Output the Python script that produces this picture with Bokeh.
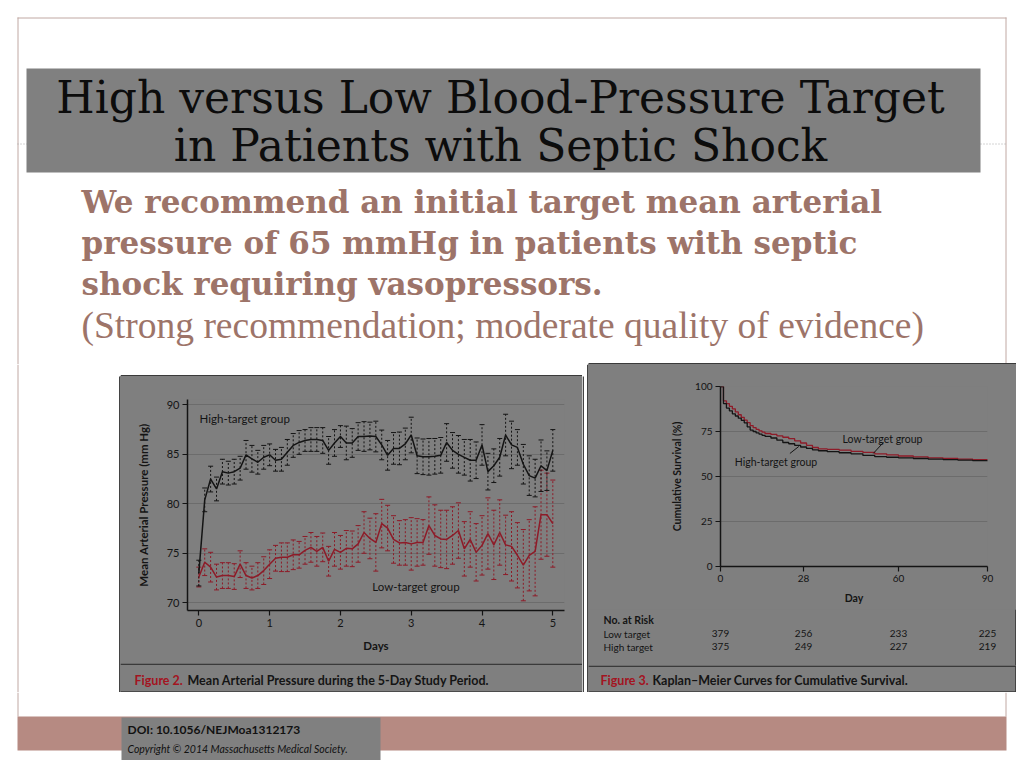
from bokeh.plotting import figure
from bokeh.layouts import column, row
from bokeh.models import Range1d, FixedTicker, Whisker, TeeHead, ColumnDataSource
from bokeh.core.properties import value
from bokeh.embed import file_html
from bokeh.resources import INLINE

# ---------------- data ----------------
title_lines = ["High versus Low Blood-Pressure Target", "in Patients with Septic Shock"]
rec_lines = ["We recommend an initial target mean arterial",
             "pressure of 65 mmHg in patients with septic",
             "shock requiring vasopressors."]
rec_note = "(Strong recommendation; moderate quality of evidence)"

# Figure 2: mean arterial pressure, measured every 2 hours over 5 days
days = [i / 12 for i in range(61)]
high_mean = [73.0, 80.4, 82.5, 81.5, 83.25, 83.1, 83.25, 83.6, 84.95, 84.55,
             84.2, 84.7, 84.95, 84.4, 84.5, 85.2, 85.9, 86.2, 86.4, 86.5,
             86.5, 86.4, 85.4, 86.15, 86.8, 86.15, 86.15, 86.8, 86.8, 86.85,
             86.8, 85.95, 84.9, 85.6, 85.6, 86.05, 86.95, 84.85, 84.75, 84.75,
             84.8, 84.9, 86.2, 85.4, 85.0, 84.7, 84.4, 84.4, 85.95, 83.25,
             83.85, 84.7, 86.95, 85.95, 85.7, 84.0, 82.85, 82.6, 83.85, 83.35,
             85.4]
high_err = [1.3, 1.2, 1.3, 1.2, 1.25, 1.2, 1.25, 1.2, 1.45, 1.35,
            1.2, 1.2, 1.1, 1.1, 1.2, 1.3, 1.2, 1.2, 1.1, 1.2,
            1.2, 1.3, 1.4, 1.35, 1.1, 1.7, 1.45, 1.4, 1.5, 1.4,
            1.55, 1.5, 1.5, 1.6, 1.65, 1.6, 1.8, 1.8, 1.8, 1.85,
            1.8, 1.8, 1.9, 1.8, 1.9, 1.8, 2.1, 1.85, 2.05, 1.85,
            1.7, 1.9, 2.1, 2.4, 1.8, 2.0, 2.0, 1.9, 2.6, 2.0,
            2.1]
low_mean = [72.6, 74.1, 73.6, 72.6, 72.75, 72.75, 72.65, 73.9, 72.75, 72.5,
            72.75, 73.25, 73.9, 74.5, 74.6, 74.6, 74.85, 74.85, 75.3, 75.6,
            75.2, 75.6, 74.2, 75.4, 75.1, 75.5, 75.45, 75.95, 77.1, 76.5,
            76.1, 78.0, 77.55, 76.4, 76.05, 76.1, 75.95, 76.1, 76.1, 77.8,
            76.8, 76.45, 76.4, 76.8, 77.3, 75.45, 76.4, 75.1, 75.8, 77.0,
            75.85, 77.1, 75.85, 75.7, 74.8, 73.8, 74.8, 75.2, 78.9, 78.9,
            78.0]
low_err = [1.0, 1.35, 1.5, 1.3, 1.3, 1.3, 1.3, 1.35, 1.3, 1.2,
           1.3, 1.4, 1.45, 1.3, 1.45, 1.45, 1.5, 1.35, 1.4, 1.5,
           1.5, 1.45, 1.5, 1.7, 1.7, 1.8, 1.8, 1.85, 2.1, 2.05,
           2.9, 2.45, 2.3, 2.4, 2.25, 2.3, 2.65, 2.4, 2.3, 2.9,
           3.1, 2.9, 2.95, 2.9, 2.8, 2.75, 2.8, 2.9, 3.0, 3.6,
           3.5, 3.3, 3.0, 3.5, 3.3, 3.6, 3.6, 4.5, 4.5, 4.2,
           4.4]
map_ticks = [70, 75, 80, 85, 90]
day_ticks = [0, 1, 2, 3, 4, 5]

# Figure 3: Kaplan-Meier cumulative survival (%)
km_days_low = [0, 1, 2, 3, 4, 5, 6, 7, 8, 9, 10, 11, 12, 13, 14, 15, 17, 19, 21, 23,
               25, 27, 29, 31, 33, 36, 40, 44, 48, 52, 56, 60, 65, 70, 75, 80, 85, 90]
km_surv_low = [100, 92.0, 90.5, 89.0, 87.6, 85.9, 84.3, 82.9, 81.3, 79.9, 78.3, 77.2,
               76.2, 75.3, 74.6, 73.9, 73.4, 72.6, 71.8, 71.0, 69.8, 68.6, 67.3, 66.1,
               65.3, 65.1, 64.7, 64.0, 63.4, 62.6, 62.0, 61.4, 60.9, 60.4, 60.0, 59.7,
               59.4, 59.1]
km_days_high = [0, 1, 2, 3, 4, 5, 6, 7, 8, 9, 10, 11, 12, 13, 14, 15, 17, 19, 21, 23,
                25, 27, 29, 31, 33, 36, 40, 44, 48, 52, 56, 60, 65, 70, 75, 80, 85, 90]
km_surv_high = [100, 90.5, 88.0, 86.5, 84.8, 83.6, 82.4, 81.2, 79.8, 77.6, 75.8, 75.0,
                74.2, 73.5, 72.9, 72.3, 71.4, 70.2, 68.9, 68.2, 67.3, 66.4, 65.6, 64.8,
                64.3, 63.8, 63.2, 62.6, 61.7, 61.0, 60.7, 60.4, 60.0, 59.7, 59.4, 59.1,
                58.8, 58.5]
surv_ticks = [0, 25, 50, 75, 100]
km_day_ticks = [0, 28, 60, 90]
risk_days = [0, 28, 60, 90]
risk_low = [379, 256, 233, 225]
risk_high = [375, 249, 227, 219]

# ---------------- style ----------------
PANEL = "#7f7f7f"
DARK = "#3a3a3a"
FRAME = "#c0a8a3"
ROSE = "#9d7469"
BAND = "#b68a82"
RED = "#8e1b28"
CAPRED = "#a3141f"
INK = "#141414"
GRID = "#6c6c6c"
SANS = "Lato"


def pixfig(x0, x1, y0, y1, bg="white"):
    p = figure(width=round(x1 - x0), height=round(y1 - y0),
               x_range=Range1d(x0, x1), y_range=Range1d(y1, y0),
               x_axis_location=None, y_axis_location=None, tools="",
               min_border=0, output_backend="svg", toolbar_location=None,
               background_fill_color=bg, border_fill_color=bg, outline_line_color=None,
               frame_align=False)
    p.grid.visible = False
    return p


def txt(p, x, y, s, size, color, font, style="normal", align="left"):
    p.text(x=[x], y=[y], text=[s], text_font=value(font), text_font_size=size,
           text_font_style=style, text_color=color, text_align=align,
           text_baseline="middle")


def hline(p, x0, x1, y, color, w=1.0, dash="solid"):
    p.segment(x0=[x0], y0=[y], x1=[x1], y1=[y], line_color=color, line_width=w, line_dash=dash)


def vline(p, x, y0, y1, color, w=1.0):
    p.segment(x0=[x], y0=[y0], x1=[x], y1=[y1], line_color=color, line_width=w)


def style_axes(fig, tick_size, label_size):
    for ax in (fig.xaxis[0], fig.yaxis[0]):
        ax.axis_line_color = INK
        ax.axis_line_width = 1.5
        ax.major_tick_line_color = INK
        ax.major_tick_line_width = 1.2
        ax.major_tick_out = 5
        ax.major_tick_in = 0
        ax.minor_tick_out = 0
        ax.minor_tick_in = 0
        ax.major_label_text_font = SANS
        ax.major_label_text_font_size = tick_size
        ax.major_label_text_color = INK
        ax.major_label_standoff = 3
        ax.axis_label_text_font = SANS
        ax.axis_label_text_font_style = "bold"
        ax.axis_label_text_font_size = label_size
        ax.axis_label_text_color = INK


# ---------------- top part ----------------
top = pixfig(0, 1016, 0, 364)
hline(top, 17, 1006, 17.5, FRAME)
vline(top, 17.5, 17, 364, FRAME)
vline(top, 1005.5, 17, 364, FRAME)
hline(top, 17, 1006, 143.5, "#a8a8a8", 1, "1 2")
top.quad(left=[26], right=[980], top=[68], bottom=[172], fill_color="#808080", line_color=None)
for i, s in enumerate(title_lines):
    txt(top, 500, 97 + 48 * i, s, "44px", "#0c0c0c", "DejaVu Serif", align="center")
for i, s in enumerate(rec_lines):
    txt(top, 81, 201 + 41 * i, s, "31px", ROSE, "DejaVu Serif", "bold")
txt(top, 81, 325, rec_note, "37.5px", ROSE, "Liberation Serif")
hline(top, 588, 1016, 363.3, DARK, 1.5)

# ---------------- left panel ----------------
gutter = pixfig(0, 120, 364, 692)
vline(gutter, 17.5, 364, 692, FRAME)
vline(gutter, 119.3, 376, 692, DARK, 1.5)

ltop = pixfig(120, 582, 364, 376)
hline(ltop, 120, 582, 375.3, DARK, 1.5)

lc = figure(width=462, height=287, x_range=Range1d(-0.16, 5.165), y_range=Range1d(69.22, 90.54),
            min_border_left=67, min_border_right=18, min_border_top=23, min_border_bottom=53,
            background_fill_color=PANEL, border_fill_color=PANEL, outline_line_color=None,
            output_backend="svg", toolbar_location=None, tools="", frame_align=False)
lc.xgrid.visible = False
lc.ygrid.ticker = FixedTicker(ticks=map_ticks)
lc.ygrid.grid_line_color = GRID
lc.xaxis.ticker = FixedTicker(ticks=day_ticks)
lc.yaxis.ticker = FixedTicker(ticks=map_ticks)
style_axes(lc, "11px", "11.5px")
lc.xaxis.axis_label = "Days"
lc.xaxis.axis_label_standoff = 9
lc.yaxis.axis_label = "Mean Arterial Pressure (mm Hg)"
lc.yaxis.axis_label_standoff = 14

hsrc = ColumnDataSource(dict(x=days, m=high_mean,
                             up=[m + e for m, e in zip(high_mean, high_err)],
                             lo=[m - e for m, e in zip(high_mean, high_err)]))
lsrc = ColumnDataSource(dict(x=days, m=low_mean,
                             up=[m + e for m, e in zip(low_mean, low_err)],
                             lo=[m - e for m, e in zip(low_mean, low_err)]))
for src, col in ((lsrc, RED), (hsrc, INK)):
    lc.add_layout(Whisker(source=src, base="x", upper="up", lower="lo",
                          line_color=col, line_width=1, line_dash="2 2",
                          upper_head=TeeHead(size=5, line_color=col, line_width=1),
                          lower_head=TeeHead(size=5, line_color=col, line_width=1)))
lc.line("x", "m", source=lsrc, line_color=RED, line_width=1.5)
lc.line("x", "m", source=hsrc, line_color=INK, line_width=1.5)
lc.text(x=[0.01], y=[88.6], text=["High-target group"], text_font=value(SANS),
        text_font_size="11.5px", text_color=INK, text_baseline="middle")
lc.text(x=[2.45], y=[71.65], text=["Low-target group"], text_font=value(SANS),
        text_font_size="11.5px", text_color=INK, text_baseline="middle")

lcap = pixfig(120, 582, 663, 692, PANEL)
hline(lcap, 120, 582, 663.8, DARK, 1.6)
hline(lcap, 120, 582, 691.4, DARK, 1.2)
txt(lcap, 134, 680, "Figure 2.", "12.5px", CAPRED, SANS, "bold")
txt(lcap, 187, 680, "Mean Arterial Pressure during the 5-Day Study Period.", "12.5px", INK, SANS, "bold")

gap = pixfig(582, 588, 364, 692)
vline(gap, 582.7, 376, 692, DARK, 1.5)
vline(gap, 587.3, 364, 692, DARK, 1.5)

# ---------------- right panel ----------------
KM_L, KM_R, KM_W = 132, 29, 267
rc = figure(width=428, height=245, x_range=Range1d(0, 90), y_range=Range1d(0, 100),
            min_border_left=KM_L, min_border_right=KM_R, min_border_top=22, min_border_bottom=43,
            background_fill_color=PANEL, border_fill_color=PANEL, outline_line_color=None,
            output_backend="svg", toolbar_location=None, tools="", frame_align=False)
rc.xgrid.visible = False
rc.ygrid.ticker = FixedTicker(ticks=surv_ticks)
rc.ygrid.grid_line_color = GRID
rc.xaxis.ticker = FixedTicker(ticks=km_day_ticks)
rc.yaxis.ticker = FixedTicker(ticks=surv_ticks)
style_axes(rc, "10px", "10.5px")
rc.xaxis.axis_label = "Day"
rc.xaxis.axis_label_standoff = 7
rc.yaxis.axis_label = "Cumulative Survival (%)"
rc.yaxis.axis_label_standoff = 9
rc.step(km_days_low, km_surv_low, mode="after", line_color=RED, line_width=1.3)
rc.step(km_days_high, km_surv_high, mode="after", line_color=INK, line_width=1.3)
rc.segment(x0=[54.9, 23.4], y0=[68.9, 62.8], x1=[51.5, 26.4], y1=[62.8, 66.7],
           line_color=INK, line_width=1)
rc.text(x=[54.6, 18.7], y=[71.1, 57.8], text=["Low-target group", "High-target group"],
        text_font=value(SANS), text_font_size="10.5px", text_color=INK,
        text_align="center", text_baseline="middle")

sc = KM_W / 90.0
rx0 = -KM_L / sc
rx1 = 90 + KM_R / sc
rf = figure(width=428, height=56, x_range=Range1d(rx0, rx1), y_range=Range1d(665, 609),
            x_axis_location=None, y_axis_location=None, tools="", min_border=0,
            background_fill_color=PANEL, border_fill_color=PANEL, outline_line_color=None,
            output_backend="svg", toolbar_location=None, frame_align=False)
rf.grid.visible = False
lx = rx0 + (603 - 588) / sc
rf.text(x=[lx], y=[619], text=["No. at Risk"], text_font=value(SANS), text_font_size="10.5px",
        text_font_style="bold", text_color=INK, text_baseline="middle")
rf.text(x=[lx, lx], y=[633, 646], text=["Low target", "High target"], text_font=value(SANS),
        text_font_size="10px", text_color=INK, text_baseline="middle")
rf.text(x=risk_days, y=[633] * 4, text=[str(v) for v in risk_low], text_font=value(SANS),
        text_font_size="10px", text_color=INK, text_align="center", text_baseline="middle")
rf.text(x=risk_days, y=[646] * 4, text=[str(v) for v in risk_high], text_font=value(SANS),
        text_font_size="10px", text_color=INK, text_align="center", text_baseline="middle")
rf.segment(x0=[rx1 - 0.6 / sc], y0=[609], x1=[rx1 - 0.6 / sc], y1=[665], line_color=DARK, line_width=1.5)

rcap = pixfig(588, 1016, 665, 692, PANEL)
hline(rcap, 588, 1016, 665.8, DARK, 1.6)
hline(rcap, 588, 1016, 691.4, DARK, 1.2)
vline(rcap, 1015.4, 665, 692, DARK, 1.5)
txt(rcap, 600, 680, "Figure 3.", "12.5px", CAPRED, SANS, "bold")
txt(rcap, 652, 680, "Kaplan\u2013Meier Curves for Cumulative Survival.", "12.5px", INK, SANS, "bold")

# ---------------- bottom part ----------------
bot = pixfig(0, 1016, 692, 760)
vline(bot, 17.5, 692, 716, FRAME)
vline(bot, 1005.5, 692, 716, FRAME)
bot.quad(left=[17], right=[1006], top=[716], bottom=[750], fill_color=BAND, line_color=None)
bot.quad(left=[121], right=[380], top=[717], bottom=[760], fill_color="#808080", line_color=None)
txt(bot, 127, 729, "DOI: 10.1056/NEJMoa1312173", "12px", "#111111", SANS, "bold")
txt(bot, 127, 748, "Copyright \u00a9 2014 Massachusetts Medical Society.", "10.5px", "#111111", SANS, "italic")

PANEL_BG = {"background-color": PANEL}
left_panel = column(lc, lcap, spacing=0, styles=PANEL_BG)
left_col = column(ltop, left_panel, spacing=0)
right_col = column(rc, rf, rcap, spacing=0, styles=PANEL_BG)
mid = row(gutter, left_col, gap, right_col, spacing=0)
page = column(top, mid, bot, spacing=0)

open("out.html", "w").write(file_html(page, INLINE))
